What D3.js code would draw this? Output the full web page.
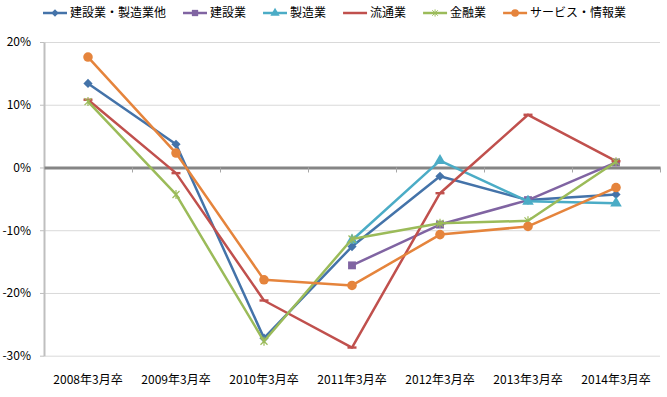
<!DOCTYPE html>
<html>
<head>
<meta charset="utf-8">
<script src="https://d3js.org/d3.v7.min.js"></script>
<style>
  body { margin: 0; background: #fff; }
  text { font-family: "Noto Sans CJK JP", "Noto Sans", sans-serif; font-size: 12px; fill: #000; }
  .grid line { stroke: #d9d9d9; }
  .grid path { display: none; }
</style>
</head>
<body>
<script>
// categories and values (percent)
var categories = ["2008年3月卒", "2009年3月卒", "2010年3月卒", "2011年3月卒", "2012年3月卒", "2013年3月卒", "2014年3月卒"];
var yTicks = [-30, -20, -10, 0, 10, 20];

var seriesNames = ["建設業・製造業他", "建設業", "製造業", "流通業", "金融業", "サービス・情報業"];
var kensetsuSeizo = [13.4, 3.7, -27.2, -12.6, -1.4, -5.2, -4.3];
var kensetsu = [null, null, null, -15.6, -9.1, -5.2, 0.8];
var seizo = [null, null, null, -11.6, 1.1, -5.4, -5.7];
var ryutsu = [10.8, -0.9, -21.2, -28.7, -4.1, 8.4, 1.0];
var kinyu = [10.5, -4.3, -27.7, -11.4, -8.9, -8.5, 0.9];
var service = [17.6, 2.3, -17.9, -18.8, -10.7, -9.4, -3.2];

var seriesValues = [kensetsuSeizo, kensetsu, seizo, ryutsu, kinyu, service];
var colors = ["#4473a9", "#8064a2", "#4bacc6", "#c0504d", "#9bbb59", "#e5843c"];
var markers = ["diamond", "square", "triangle", "dash", "star", "circle"];

var W = 667, H = 397;
var plotLeft = 44, plotRight = 660, plotTop = 42, plotBottom = 355.7;

var svg = d3.select("body").append("svg").attr("width", W).attr("height", H);

var x = d3.scaleBand().domain(categories).range([plotLeft, plotRight]);
var y = d3.scaleLinear().domain([-30, 20]).range([plotBottom, plotTop]);

// gridlines
svg.append("g").attr("class", "grid")
  .attr("transform", "translate(" + plotLeft + ",0)")
  .call(d3.axisLeft(y).tickValues(yTicks).tickSize(-(plotRight - plotLeft)).tickFormat(""));

// y axis
var gy = svg.append("g")
  .attr("transform", "translate(" + plotLeft + ",0)")
  .call(d3.axisLeft(y).tickValues(yTicks).tickSize(4).tickSizeOuter(0).tickPadding(9)
    .tickFormat(function(d) { return d + "%"; }));
gy.select(".domain").attr("stroke", "#bfbfbf").attr("stroke-width", 2);
gy.selectAll(".tick line").attr("stroke", "#bfbfbf");
gy.selectAll("text").style("font-size", "12px");

// zero axis with ticks at category boundaries
var xb = d3.scaleLinear().domain([0, categories.length]).range([plotLeft, plotRight]);
var g0 = svg.append("g")
  .attr("transform", "translate(0," + y(0) + ")")
  .call(d3.axisBottom(xb).tickValues(d3.range(1, categories.length + 1)).tickSize(5).tickSizeOuter(0).tickFormat(""));
g0.select(".domain").attr("stroke", "#858585").attr("stroke-width", 3);
g0.selectAll(".tick line").attr("stroke", "#a6a6a6");

// category labels
var gx = svg.append("g")
  .attr("transform", "translate(0," + (plotBottom + 17) + ")")
  .call(d3.axisBottom(x).tickSize(0));
gx.select(".domain").remove();
gx.selectAll("text").style("font-size", "12px");

function markerPath(type) {
  if (type === "diamond") return "M0,-4.6L4.6,0L0,4.6L-4.6,0Z";
  if (type === "square") return d3.symbol(d3.symbolSquare, 62)();
  if (type === "triangle") return d3.symbol(d3.symbolTriangle, 58)();
  if (type === "circle") return d3.symbol(d3.symbolCircle, 72)();
  if (type === "dash") return "M-4.5,-1.2H4.5V1.2H-4.5Z";
  return "M0,-4.5V4.5M-3.5,-3.5L3.5,3.5M-3.5,3.5L3.5,-3.5";
}

var line = d3.line()
  .defined(function(d) { return d != null; })
  .x(function(d, i) { return x(categories[i]) + x.bandwidth() / 2; })
  .y(function(d) { return y(d); });

seriesValues.forEach(function(vals, s) {
  var g = svg.append("g");
  g.append("path")
    .attr("d", line(vals))
    .attr("fill", "none")
    .attr("stroke", colors[s])
    .attr("stroke-width", 2.5)
    .attr("stroke-linejoin", "round");
  g.selectAll("path.m")
    .data(vals.map(function(v, i) { return [v, i]; }).filter(function(d) { return d[0] != null; }))
    .enter().append("path")
    .attr("class", "m")
    .attr("transform", function(d) { return "translate(" + (x(categories[d[1]]) + x.bandwidth() / 2) + "," + y(d[0]) + ")"; })
    .attr("d", markerPath(markers[s]))
    .attr("fill", markers[s] === "star" ? "none" : colors[s])
    .attr("stroke", colors[s])
    .attr("stroke-width", markers[s] === "star" ? 1.2 : 0);
});

// legend
var lx = 43;
seriesNames.forEach(function(name, s) {
  var g = svg.append("g").attr("transform", "translate(" + lx + ",13)");
  g.append("line").attr("x1", 0).attr("x2", 24).attr("y1", 0).attr("y2", 0)
    .attr("stroke", colors[s]).attr("stroke-width", 2.5);
  if (markers[s] !== "dash") {
    g.append("path")
      .attr("transform", "translate(12,0) scale(0.8)")
      .attr("d", markerPath(markers[s]))
      .attr("fill", markers[s] === "star" ? "none" : colors[s])
      .attr("stroke", colors[s])
      .attr("stroke-width", markers[s] === "star" ? 1.2 : 0);
  }
  var t = g.append("text").attr("x", 27).attr("dy", "0.35em").text(name);
  lx += 27 + t.node().getComputedTextLength() + 17;
});
</script>
</body>
</html>
